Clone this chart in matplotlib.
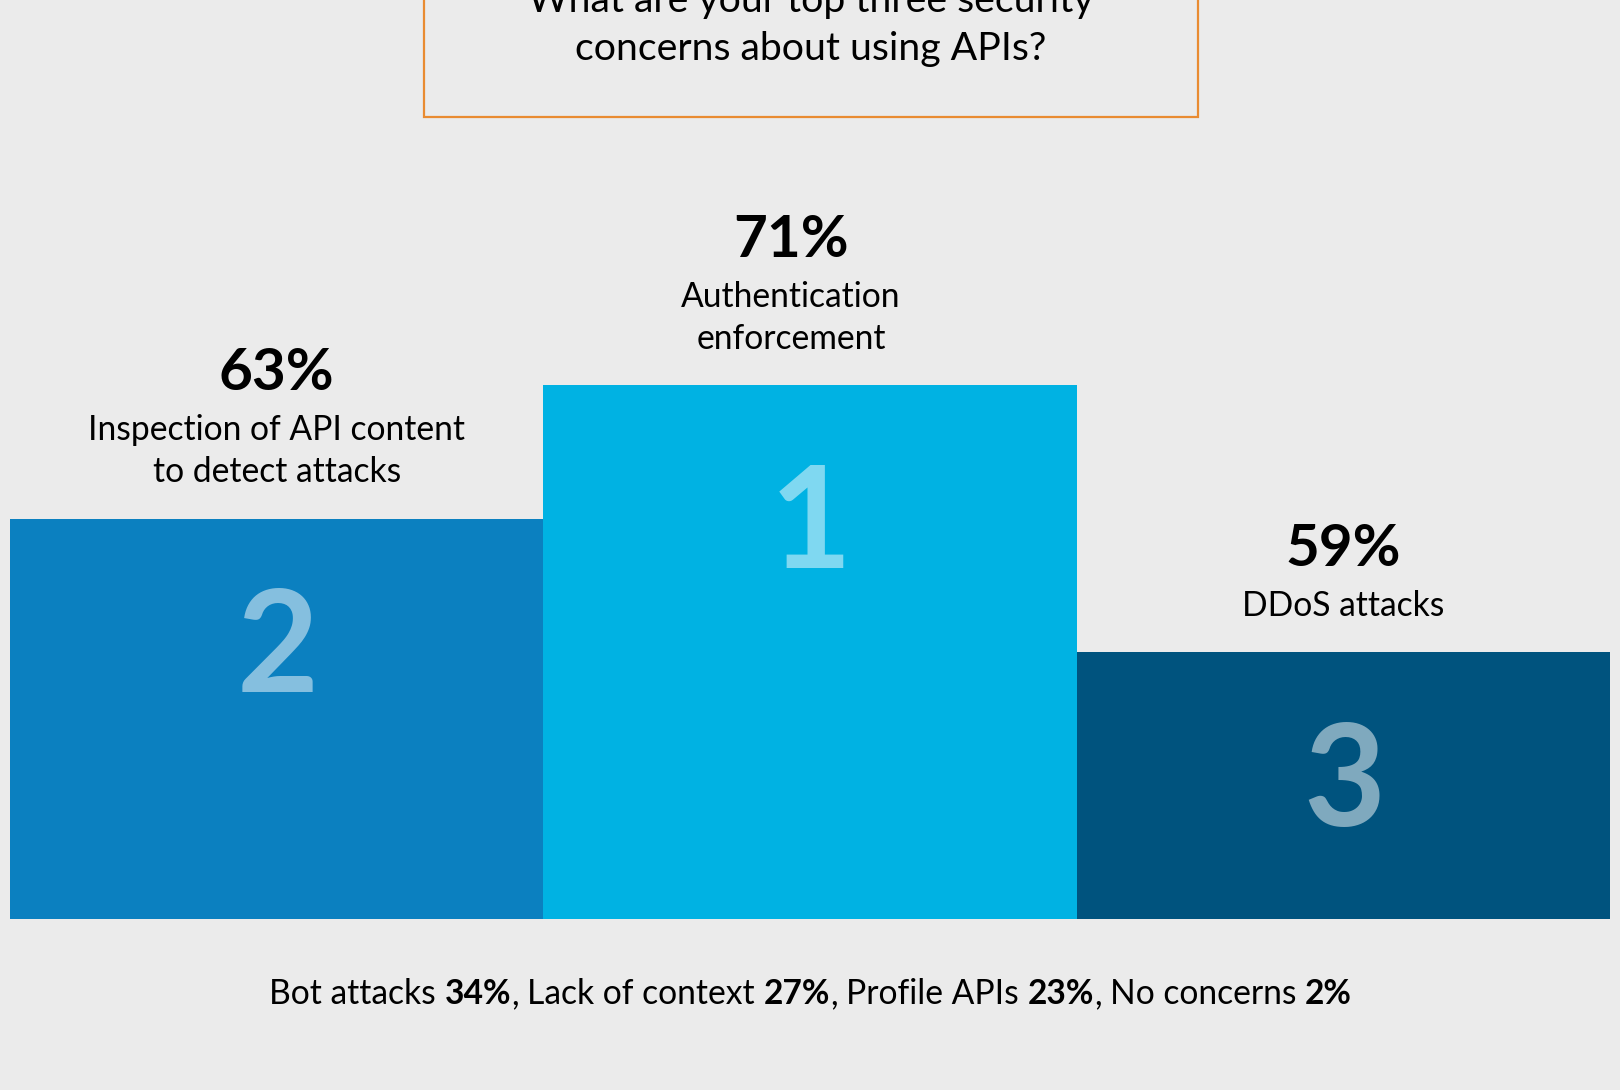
import matplotlib
matplotlib.use("Agg")
import matplotlib.pyplot as plt
from matplotlib.patches import Rectangle

# ---- data -------------------------------------------------------------
question = ["What are your top three security", "concerns about using APIs?"]
categories = ["Inspection of API content\nto detect attacks",
              "Authentication\nenforcement",
              "DDoS attacks"]
shares = [63, 71, 59]            # percent of respondents
ranks = [2, 1, 3]                # podium order: 2nd, 1st, 3rd
other_items = ["Bot attacks", "Lack of context", "Profile APIs", "No concerns"]
other_shares = [34, 27, 23, 2]

# ---- style ------------------------------------------------------------
BG = "#EBEBEB"
BAR_COLORS = ["#0B80C0", "#00B2E3", "#00537E"]
ORANGE = "#E98B31"
FONT = "Lato"
plt.rcParams["font.family"] = [FONT, "DejaVu Sans"]

W, H, DPI = 1620, 1090, 100
fig = plt.figure(figsize=(W / DPI, H / DPI), dpi=DPI, facecolor=BG)

# full-figure overlay in pixel units (y downwards) for free text and the box
ov = fig.add_axes([0, 0, 1, 1])
ov.set_xlim(0, W)
ov.set_ylim(H, 0)
ov.axis("off")
ov.set_zorder(3)
ov.patch.set_alpha(0)

# podium axes
left_px, right_px, base_px, top_px = 10, 1610, 919, 385
ax = fig.add_axes([left_px / W, (H - base_px) / H,
                   (right_px - left_px) / W, (base_px - top_px) / H])
ax.set_facecolor(BG)
ax.axis("off")

n = len(ranks)
levels = [max(ranks) + 2 - r for r in ranks]       # podium step heights
x = list(range(n))
ax.bar(x, levels, width=1.0, color=BAR_COLORS, linewidth=0, antialiased=False)
ax.set_xlim(-0.5, n - 0.5)
ax.set_ylim(0, max(levels))

# text around each podium step
label_dx = [0, -19, 0]
rank_dy = [-173, -183, -174]
for i in range(n):
    lines = categories[i].split("\n")
    dy = 36
    for line in reversed(lines):
        ax.annotate(line, xy=(x[i], levels[i]), xytext=(label_dx[i], dy),
                    textcoords="offset pixels", ha="center", va="baseline",
                    fontsize=24.2, color="#000000", annotation_clip=False)
        dy += 42
    ax.annotate(f"{shares[i]}%", xy=(x[i], levels[i]),
                xytext=(label_dx[i], dy - 42 + 50),
                textcoords="offset pixels", ha="center", va="baseline",
                fontsize=42, fontweight="bold", color="#000000",
                annotation_clip=False)
    ax.annotate(str(ranks[i]), xy=(x[i], levels[i]), xytext=(1, rank_dy[i]),
                textcoords="offset pixels", ha="center", va="baseline",
                fontsize=102, fontweight="bold", color="white", alpha=0.5,
                annotation_clip=False)

# question box (its top runs past the upper edge of the figure)
ov.add_patch(Rectangle((424, -20), 1198 - 424, 117 + 20, fill=False,
                       edgecolor=ORANGE, linewidth=1.6, zorder=2))
for y, line in zip([12, 60], question):
    ov.text(811, y, line, ha="center", va="baseline", fontsize=28.3,
            color="#000000")

# footer line with the remaining answers, values in bold
FOOT_SIZE = 24.2
fig.canvas.draw()
renderer = fig.canvas.get_renderer()
probe_a = ov.text(0, 0, "xx", fontsize=FOOT_SIZE)
probe_b = ov.text(0, 0, "x x", fontsize=FOOT_SIZE)
space_px = (probe_b.get_window_extent(renderer).width
            - probe_a.get_window_extent(renderer).width)
probe_a.remove()
probe_b.remove()

pieces = []
for k, (name, val) in enumerate(zip(other_items, other_shares)):
    pieces.append((name, "normal", space_px if k else 0))
    pieces.append((f"{val}%", "bold", space_px))
    if k < len(other_items) - 1:
        pieces.append((",", "normal", 0))

prev = None
for txt, weight, gap in pieces:
    if prev is None:
        prev = ov.text(269, 1004, txt, ha="left", va="baseline",
                       fontsize=FOOT_SIZE, fontweight=weight, color="#000000")
    else:
        prev = ov.annotate(txt, xy=(1, 0), xycoords=prev,
                           xytext=(gap, 0), textcoords="offset pixels",
                           ha="left", va="bottom", fontsize=FOOT_SIZE,
                           fontweight=weight, color="#000000")

fig.savefig("out.png", dpi=DPI, facecolor=BG)
